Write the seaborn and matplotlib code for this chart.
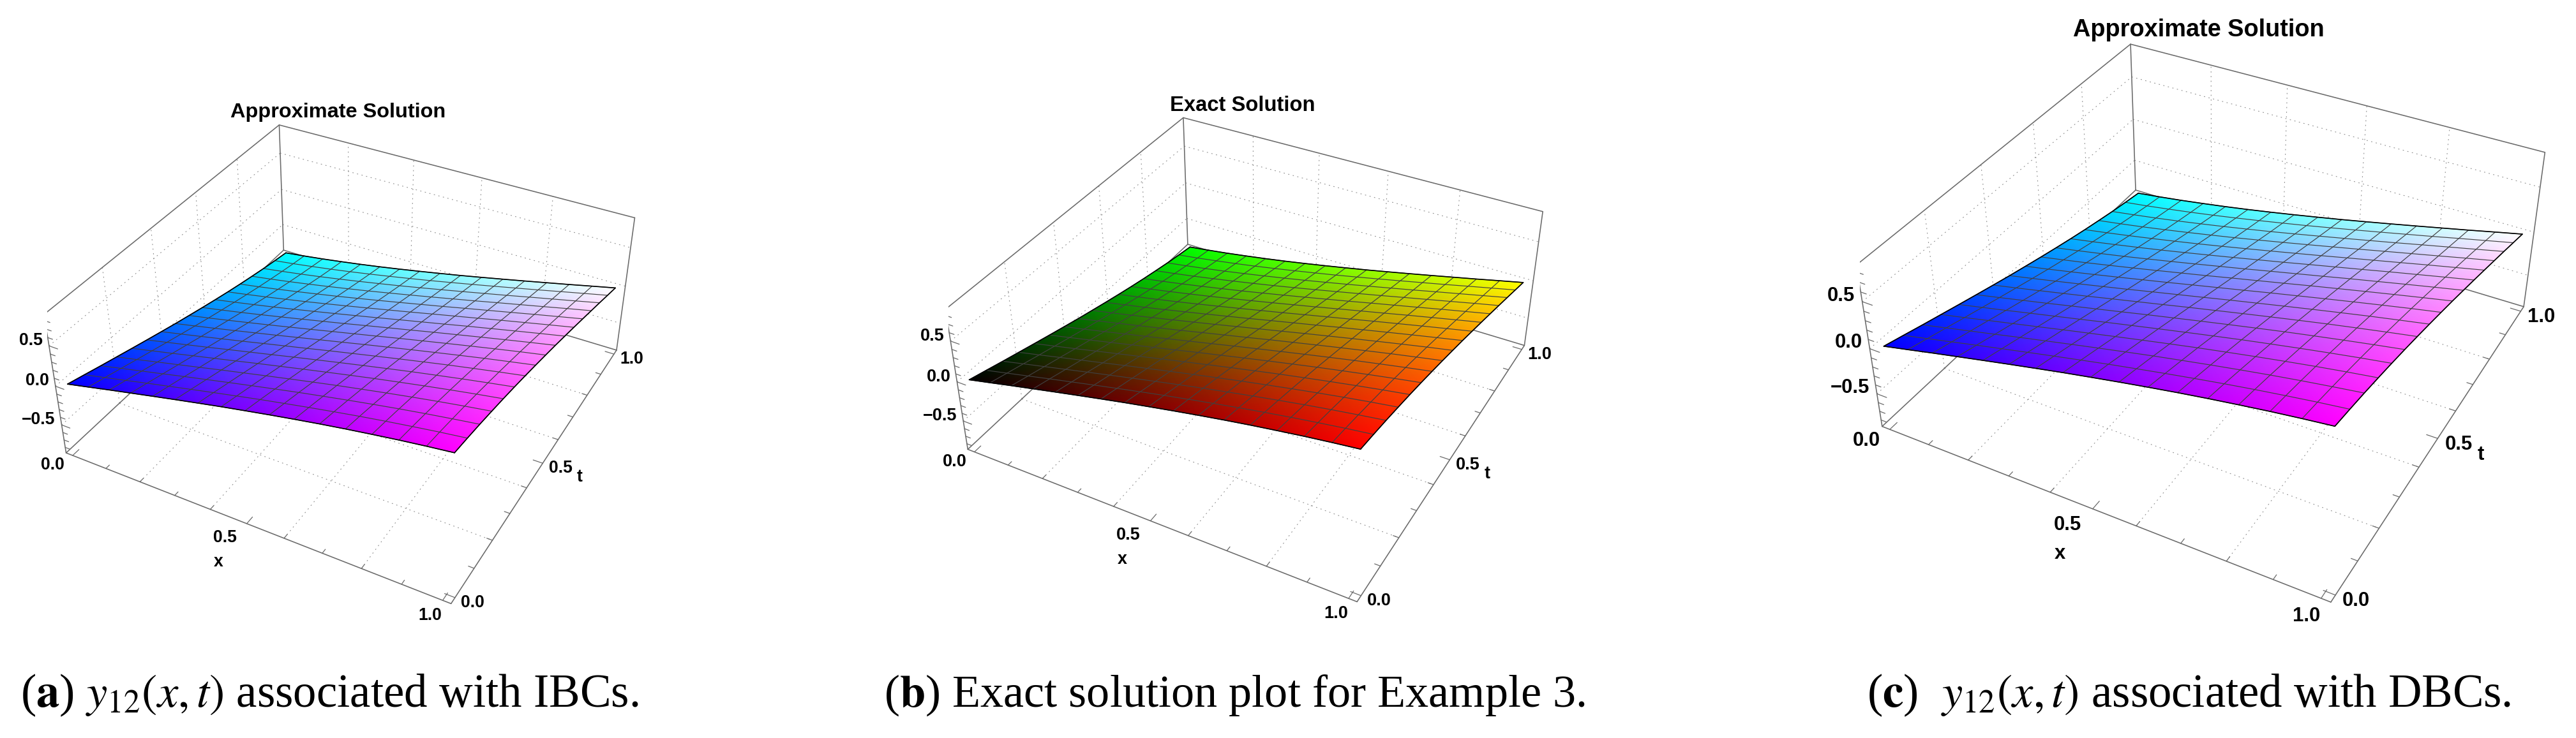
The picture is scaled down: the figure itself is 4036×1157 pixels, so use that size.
import numpy as np
import matplotlib
matplotlib.use("Agg")
import matplotlib.pyplot as plt
import seaborn as sns
from mpl_toolkits.mplot3d import proj3d

x_grid = [0, 0.0625, 0.125, 0.1875, 0.25, 0.3125, 0.375, 0.4375, 0.5, 0.5625, 0.625, 0.6875, 0.75, 0.8125, 0.875, 0.9375, 1]
t_grid = [0, 0.0625, 0.125, 0.1875, 0.25, 0.3125, 0.375, 0.4375, 0.5, 0.5625, 0.625, 0.6875, 0.75, 0.8125, 0.875, 0.9375, 1]

# surface height, one row per t value (all three look the same)
surface_z = [
    [0, .062, .125, .186, .247, .307, .366, .424, .479, .533, .585, .635, .682, .726, .768, .806, .841],
    [-.062, 0, .062, .125, .186, .247, .307, .366, .424, .479, .533, .585, .635, .682, .726, .768, .806],
    [-.125, -.062, 0, .062, .125, .186, .247, .307, .366, .424, .479, .533, .585, .635, .682, .726, .768],
    [-.186, -.125, -.062, 0, .062, .125, .186, .247, .307, .366, .424, .479, .533, .585, .635, .682, .726],
    [-.247, -.186, -.125, -.062, 0, .062, .125, .186, .247, .307, .366, .424, .479, .533, .585, .635, .682],
    [-.307, -.247, -.186, -.125, -.062, 0, .062, .125, .186, .247, .307, .366, .424, .479, .533, .585, .635],
    [-.366, -.307, -.247, -.186, -.125, -.062, 0, .062, .125, .186, .247, .307, .366, .424, .479, .533, .585],
    [-.424, -.366, -.307, -.247, -.186, -.125, -.062, 0, .062, .125, .186, .247, .307, .366, .424, .479, .533],
    [-.479, -.424, -.366, -.307, -.247, -.186, -.125, -.062, 0, .062, .125, .186, .247, .307, .366, .424, .479],
    [-.533, -.479, -.424, -.366, -.307, -.247, -.186, -.125, -.062, 0, .062, .125, .186, .247, .307, .366, .424],
    [-.585, -.533, -.479, -.424, -.366, -.307, -.247, -.186, -.125, -.062, 0, .062, .125, .186, .247, .307, .366],
    [-.635, -.585, -.533, -.479, -.424, -.366, -.307, -.247, -.186, -.125, -.062, 0, .062, .125, .186, .247, .307],
    [-.682, -.635, -.585, -.533, -.479, -.424, -.366, -.307, -.247, -.186, -.125, -.062, 0, .062, .125, .186, .247],
    [-.726, -.682, -.635, -.585, -.533, -.479, -.424, -.366, -.307, -.247, -.186, -.125, -.062, 0, .062, .125, .186],
    [-.768, -.726, -.682, -.635, -.585, -.533, -.479, -.424, -.366, -.307, -.247, -.186, -.125, -.062, 0, .062, .125],
    [-.806, -.768, -.726, -.682, -.635, -.585, -.533, -.479, -.424, -.366, -.307, -.247, -.186, -.125, -.062, 0, .062],
    [-.841, -.806, -.768, -.726, -.682, -.635, -.585, -.533, -.479, -.424, -.366, -.307, -.247, -.186, -.125, -.062, 0],
]

titles = ["Approximate Solution", "Exact Solution", "Approximate Solution"]
captions = [r"($\mathbf{a}$) $y_{12}(x,t)$ associated with IBCs.",
            r"($\mathbf{b}$) Exact solution plot for Example 3.",
            r"($\mathbf{c}$)  $y_{12}(x,t)$ associated with DBCs."]
blue_channel = [1, 0, 1]
x_ticks = [0.0, 0.5, 1.0]
t_ticks = [0.0, 0.5, 1.0]
z_ticks = [-0.5, 0.0, 0.5]
minor_ticks = [0.0, 0.1, 0.2, 0.3, 0.4, 0.5, 0.6, 0.7, 0.8, 0.9, 1.0]
z_minor_ticks = [-0.8, -0.7, -0.6, -0.5, -0.4, -0.3, -0.2, -0.1, 0.0, 0.1, 0.2, 0.3, 0.4, 0.5, 0.6, 0.7, 0.8]
xt_grid = [0.2, 0.4, 0.6, 0.8]

W, H = 4037, 1157
LO, HI = -0.02, 1.02
ZM = 0.875
ELEV, AZIM, BZ, FOC = 36.21, -61.56, 0.4, 0.436

# left px, top px, size px of each 3d axes
boxes = [(73.5, 67.2, 937.5), (1485.9, 54.4, 948.0), (2913.8, -80.8, 1092.8)]
title_pos = [(530, 176), (1947, 165), (3445, 47)]
title_size = [23.4, 23.6, 27.3]
cap_left = [32, 1385, 2925]
cap_size = [52.5, 52, 52.4]
CAP_BASE = 1108
x_label_off = {0.0: (-31, -15), 0.5: (-34, -22), 1.0: (-20, -24)}

sns.set_theme(style="white")
plt.rcParams['font.family'] = ['Liberation Sans']
plt.rcParams['mathtext.fontset'] = 'stix'

BOX = '#6a6a6a'
GRID = '#8c8c8c'
DOTS = (0, (1.6, 5))


def draw_panel(fig, i):
    left, top, size = boxes[i]
    ax = fig.add_axes([left / W, 1 - (top + size) / H, size / W, size / H],
                      projection='3d', computed_zorder=False)
    ax.view_init(ELEV, AZIM, 0)
    ax.set_proj_type('persp', focal_length=FOC)
    ax.set_box_aspect((1, 1, BZ))
    ax.set_xlim(LO, HI, view_margin=0)
    ax.set_ylim(LO, HI, view_margin=0)
    ax.set_zlim(-ZM, ZM, view_margin=0)
    ax.set_axis_off()
    ax.patch.set_alpha(0)

    def seg(p, q, **kw):
        ax.plot([p[0], q[0]], [p[1], q[1]], [p[2], q[2]], **kw)

    grid_kw = dict(color=GRID, lw=0.8, ls=DOTS, zorder=1)
    for g in xt_grid:
        seg((g, LO, -ZM), (g, HI, -ZM), **grid_kw)
        seg((LO, g, -ZM), (HI, g, -ZM), **grid_kw)
        seg((LO, g, -ZM), (LO, g, ZM), **grid_kw)
        seg((g, HI, -ZM), (g, HI, ZM), **grid_kw)
    for zg in z_ticks:
        seg((LO, LO, zg), (LO, HI, zg), **grid_kw)
        seg((LO, HI, zg), (HI, HI, zg), **grid_kw)

    box_kw = dict(color=BOX, lw=1.15, zorder=2)
    A, B, C, D = (LO, LO, -ZM), (HI, LO, -ZM), (HI, HI, -ZM), (LO, HI, -ZM)
    E, F, G = (LO, LO, ZM), (LO, HI, ZM), (HI, HI, ZM)
    for p, q in [(A, B), (B, C), (C, D), (D, A), (A, E), (E, F), (F, D), (F, G), (G, C)]:
        seg(p, q, **box_kw)

    tick_kw = dict(color=BOX, lw=0.9, zorder=2)
    for v in minor_ticks:
        ln = 0.025 if v in x_ticks else 0.014
        seg((v, LO, -ZM), (v, LO + ln, -ZM), **tick_kw)
        seg((HI, v, -ZM), (HI - ln, v, -ZM), **tick_kw)
    for v in z_minor_ticks:
        ln = 0.025 if v in z_ticks else 0.014
        seg((LO, LO, v), (LO + ln, LO, v), **tick_kw)

    # surface fill: gouraud mesh on the projected nodes, coloured by position
    X, T = np.meshgrid(x_grid, t_grid)
    Z = np.array(surface_z)
    M = ax.get_proj()
    U, V, _ = proj3d.proj_transform(X.ravel(), T.ravel(), Z.ravel(), M)
    U = np.asarray(U).reshape(X.shape)
    V = np.asarray(V).reshape(X.shape)
    rgb = np.dstack([X, T, np.full(X.shape, float(blue_channel[i]))])
    fill = ax.pcolormesh(U, V, rgb, shading='gouraud', zorder=3)
    fill.do_3d_projection = lambda: 0  # Axes3D.draw calls this on every collection
    ax.plot_wireframe(X, T, Z, rstride=1, cstride=1, color='#404040', linewidth=0.85, zorder=4)
    for xs, ts, zs in [(X[0], T[0], Z[0]), (X[-1], T[-1], Z[-1]),
                       (X[:, 0], T[:, 0], Z[:, 0]), (X[:, -1], T[:, -1], Z[:, -1])]:
        ax.plot(xs, ts, zs, color='black', lw=1.2, zorder=5)

    k = size / 937.5

    def label(txt, xyz, off, ha='center', fs=19.2):
        u, v, _ = proj3d.proj_transform(np.array([xyz[0]]), np.array([xyz[1]]), np.array([xyz[2]]), M)
        ax.annotate(txt, (u[0], v[0]), xytext=(off[0] * k, off[1] * k), textcoords='offset pixels',
                    ha=ha, va='center', fontsize=fs * k, fontweight='bold', color='black',
                    annotation_clip=False, zorder=6)

    for v in x_ticks:
        label(f"{v:.1f}", (v, LO, -ZM), x_label_off[v])
    for v in t_ticks:
        label(f"{v:.1f}", (HI, v, -ZM), (28, -8))
    for v in z_ticks:
        txt = f"{v:.1f}".replace('-', '\u2212')
        label(txt, (LO, LO, v), (-10, 8), ha='right')
    label("x", (0.5, LO, -ZM), (-44, -60))
    label("t", (HI, 0.5, -ZM), (58, -22))

    fig.text(title_pos[i][0] / W, 1 - title_pos[i][1] / H, titles[i], ha='center', va='center',
             fontsize=title_size[i], fontweight='bold', color='black')
    fig.text(cap_left[i] / W, 1 - CAP_BASE / H, captions[i], ha='left', va='baseline',
             fontsize=cap_size[i], family='Liberation Serif', color='black')


fig = plt.figure(figsize=(W / 100, H / 100), dpi=100, facecolor='white')
for i in range(3):
    draw_panel(fig, i)
fig.savefig('out.png', dpi=100)
